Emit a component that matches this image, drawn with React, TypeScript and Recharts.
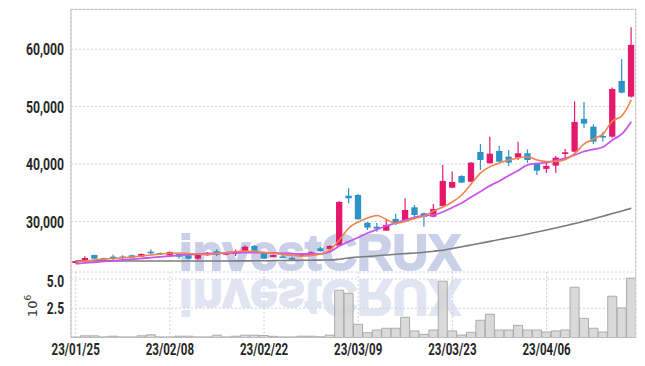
import React from 'react';
import { ComposedChart, Bar, Line, XAxis, YAxis, CartesianGrid } from 'recharts';

const DATES = [
  '23/01/25', '23/01/26', '23/01/27', '23/01/30', '23/01/31',
  '23/02/01', '23/02/02', '23/02/03', '23/02/06', '23/02/07',
  '23/02/08', '23/02/09', '23/02/10', '23/02/13', '23/02/14',
  '23/02/15', '23/02/16', '23/02/17', '23/02/20', '23/02/21',
  '23/02/22', '23/02/23', '23/02/24', '23/02/27', '23/02/28',
  '23/03/02', '23/03/03', '23/03/06', '23/03/07', '23/03/08',
  '23/03/09', '23/03/10', '23/03/13', '23/03/14', '23/03/15',
  '23/03/16', '23/03/17', '23/03/20', '23/03/21', '23/03/22',
  '23/03/23', '23/03/24', '23/03/27', '23/03/28', '23/03/29',
  '23/03/30', '23/03/31', '23/04/03', '23/04/04', '23/04/05',
  '23/04/06', '23/04/07', '23/04/10', '23/04/11', '23/04/12',
  '23/04/13', '23/04/14', '23/04/17', '23/04/18', '23/04/19',
];

const OPEN = [
  22770, 23070, 24160, 23640, 23870, 23900, 24110, 23870, 24740, 24510,
  24110, 24340, 24110, 23520, 24110, 24810, 24220, 24340, 24810, 25730,
  24460, 23820, 23900, 23660, 23940, 24340, 25330, 25210, 25790, 34490,
  34620, 29790, 29090, 28400, 30440, 30260, 32470, 31430, 30840, 32700,
  35890, 37930, 36930, 42110, 40140, 42280, 41290, 41110, 41880, 40140,
  39150, 39720, 41760, 42160, 47860, 46510, 44890, 44770, 54480, 51740,
];
const HIGH = [
  23150, 23940, 24200, 23700, 24220, 24110, 24200, 24400, 25160, 24600,
  24780, 24400, 24150, 24450, 24650, 25160, 24700, 25100, 25850, 25900,
  24500, 24250, 24110, 23870, 24400, 24800, 25560, 25850, 33500, 35780,
  34750, 29850, 29740, 30260, 31310, 34040, 32870, 31500, 33050, 39840,
  38680, 38050, 40350, 43500, 44770, 43150, 42460, 43900, 42580, 40200,
  40420, 41410, 42630, 50940, 50820, 46930, 45590, 53310, 58310, 63830,
];
const LOW = [
  22700, 23000, 23480, 23380, 23290, 23420, 23650, 23850, 24340, 24250,
  24080, 23520, 23450, 23350, 24050, 23990, 24150, 23990, 24750, 24850,
  23450, 23750, 23640, 23290, 23900, 24300, 24760, 25150, 25700, 33170,
  30300, 28520, 28220, 28350, 29340, 30200, 30730, 29090, 30750, 32650,
  35800, 36700, 36850, 38970, 40050, 40350, 39670, 40710, 40240, 38100,
  38500, 38500, 41010, 42050, 46290, 43500, 43900, 44600, 52350, 51600,
];
const CLOSE = [
  23100, 23640, 23520, 23420, 23780, 23820, 23690, 24340, 24600, 24290,
  24690, 23870, 23520, 24390, 24560, 24220, 24630, 24740, 25610, 24910,
  23520, 24160, 23780, 23520, 24340, 24630, 24810, 25730, 33400, 34040,
  30380, 28920, 28750, 29390, 29690, 32000, 31130, 30840, 32180, 37060,
  36880, 36760, 40240, 40710, 41810, 40420, 40240, 41880, 40710, 38850,
  39670, 41110, 42050, 47330, 47040, 43900, 44670, 53080, 52440, 60750,
];
// volume, in millions of shares
const VOLUME = [
  0.04, 0.14, 0.14, 0.05, 0.11, 0.05, 0.05, 0.14, 0.23, 0.05,
  0.05, 0.11, 0.11, 0.05, 0.05, 0.2, 0.05, 0.11, 0.2, 0.2,
  0.17, 0.1, 0.05, 0.05, 0.11, 0.11, 0.06, 0.2, 4.04, 3.78,
  1.13, 0.41, 0.64, 0.79, 0.79, 1.73, 0.56, 0.27, 0.64, 4.81,
  0.56, 0.21, 0.44, 1.47, 1.99, 0.64, 0.64, 1.04, 0.64, 0.64,
  0.47, 0.56, 0.64, 4.3, 1.64, 0.79, 0.47, 3.53, 2.53, 5.07,
];
// moving averages
const MA_SHORT = [
  22945, 23119, 23293, 23467, 23555, 23677, 23816, 23990, 24164, 24338,
  24478, 24512, 24425, 24303, 24233, 24425, 24599, 24773, 24861, 24773,
  24599, 24460, 24251, 24077, 23990, 24077, 24338, 25035, 26777, 28868,
  29913, 30610, 31045, 30349, 29652, 30000, 30523, 30958, 31829, 32526,
  33397, 34616, 36533, 38449, 39546, 40191, 40713, 41062, 41271, 40713,
  40452, 40452, 40800, 41846, 43500, 44371, 45242, 47507, 48378, 51165,
];
const MA_MID = [
  22649, 22773, 22894, 23033, 23155, 23293, 23433, 23555, 23711, 23851,
  23990, 24112, 24216, 24303, 24390, 24460, 24512, 24547, 24582, 24599,
  24582, 24512, 24460, 24390, 24338, 24338, 24373, 24739, 25732, 26516,
  27213, 27997, 28606, 29251, 29739, 30261, 30732, 30993, 31132, 31655,
  32439, 33222, 34268, 35226, 36236, 37055, 38013, 38884, 39842, 40104,
  40243, 40626, 40975, 41584, 42194, 42542, 42978, 44197, 45242, 47385,
];
const MA_LONG = [
  23160, 23150, 23140, 23135, 23130, 23130, 23125, 23120, 23115, 23110,
  23110, 23110, 23110, 23110, 23110, 23115, 23120, 23130, 23140, 23150,
  23160, 23180, 23200, 23220, 23240, 23255, 23275, 23293, 23433, 23642,
  23816, 23903, 24025, 24164, 24304, 24408, 24513, 24652, 24826, 25000,
  25297, 25593, 25906, 26220, 26534, 26847, 27161, 27474, 27823, 28171,
  28520, 28868, 29251, 29634, 30052, 30470, 30923, 31376, 31829, 32299,
];

const PRICE_TICKS = [30000, 40000, 50000, 60000];
const VOL_TICKS = [2.5, 5.0];

const data = DATES.map((date, i) => ({
  date,
  open: OPEN[i],
  high: HIGH[i],
  low: LOW[i],
  close: CLOSE[i],
  volume: VOLUME[i],
  maShort: MA_SHORT[i],
  maMid: MA_MID[i],
  maLong: MA_LONG[i],
}));

const RED = '#e5196b';
const BLUE = '#2b93c8';
const FONT = "Roboto, 'Noto Sans', sans-serif";
const GRID = '#cdd2e4';

// condensed look: squeeze glyphs to the reference's narrow widths
const textLen = (s: string) =>
  s.split('').reduce((acc, ch) => acc + (/[0-9]/.test(ch) ? 6.95 : 3.3), 0);

const YTick = (props: any) => {
  const { x, y, payload, fmt } = props;
  const s = fmt(payload.value);
  return (
    <text x={x} y={y} dy="0.37em" textAnchor="end" fontFamily={FONT} fontWeight={700} fontSize={16.5} fill="#262626"
      textLength={textLen(s)} lengthAdjust="spacingAndGlyphs">{s}</text>
  );
};

const XTick = (props: any) => {
  const { x, y, payload } = props;
  const s = String(payload.value);
  return (
    <text x={x} y={y} dy="0.75em" textAnchor="middle" fontFamily={FONT} fontWeight={700} fontSize={16.5} fill="#262626"
      textLength={textLen(s)} lengthAdjust="spacingAndGlyphs">{s}</text>
  );
};

const fmtPrice = (v: number) => v.toLocaleString('en-US');
const fmtVol = (v: number) => v.toFixed(1);

const Candle = (props: any) => {
  const { x, y, width, height, payload } = props;
  if (!payload || x == null) return null;
  const { open, close, high, low } = payload;
  const top = Math.min(y, y + height);
  const h = Math.abs(height);
  const ratio = high === low ? 0 : h / (high - low);
  const yOf = (v: number) => top + (high - v) * ratio;
  const color = close >= open ? RED : BLUE;
  const bTop = yOf(Math.max(open, close));
  const bBot = yOf(Math.min(open, close));
  const cx = x + width / 2;
  const bw = Math.min(6.5, width * 0.7);
  return (
    <g>
      <line x1={cx} x2={cx} y1={top} y2={top + h} stroke={color} strokeWidth={1.2} />
      <rect x={cx - bw / 2} y={bTop} width={bw} height={Math.max(1.6, bBot - bTop)} fill={color} />
    </g>
  );
};

export default function App() {
  return (
    <div style={{ position: 'absolute', left: 0, top: 0, width: 645, height: 366, background: '#fff', overflow: 'hidden' }}>
      <svg width={645} height={366} style={{ position: 'absolute', left: 0, top: 0 }}>
        <text x={179} y={270} fontFamily="'Liberation Sans', Arial, sans-serif" fontWeight="bold" fontSize={50}
          fill="#c9d0e8" stroke="#c9d0e8" strokeWidth={2} textLength={282} lengthAdjust="spacingAndGlyphs">investCRUX</text>
        <g transform="translate(0,550) scale(1,-1)">
          <text x={179} y={270} fontFamily="'Liberation Sans', Arial, sans-serif" fontWeight="bold" fontSize={50}
            fill="#e1e5f1" stroke="#e1e5f1" strokeWidth={2} textLength={282} lengthAdjust="spacingAndGlyphs">investCRUX</text>
        </g>
      </svg>
      <div style={{ position: 'absolute', left: 0, top: 0 }}>
        <ComposedChart width={645} height={272} data={data} margin={{ top: 9, right: 9, bottom: 0, left: 0 }} barCategoryGap={0} barGap={0}>
          <CartesianGrid stroke={GRID} strokeDasharray="2 2" />
          <XAxis dataKey="date" interval={9} tick={false} tickLine={false} height={0} axisLine={{ stroke: '#bdbdbd' }} />
          <YAxis width={71} domain={[21200, 67000]} ticks={PRICE_TICKS} allowDataOverflow
            tick={<YTick fmt={fmtPrice} />} tickLine={false} tickSize={0} tickMargin={7}
            axisLine={{ stroke: '#bdbdbd' }} />
          <Bar dataKey={(d: any) => [d.low, d.high]} shape={(p: any) => <Candle {...p} />} isAnimationActive={false} />
          <Line type="monotone" dataKey="maLong" stroke="#7b7b7b" strokeWidth={1.6} dot={false} isAnimationActive={false} />
          <Line type="monotone" dataKey="maMid" stroke="#c955ea" strokeWidth={1.8} dot={false} isAnimationActive={false} />
          <Line type="monotone" dataKey="maShort" stroke="#f0844c" strokeWidth={1.6} dot={false} isAnimationActive={false} />
        </ComposedChart>
      </div>
      <div style={{ position: 'absolute', left: 0, top: 272 }}>
        <ComposedChart width={645} height={94} data={data} margin={{ top: 0, right: 9, bottom: 0, left: 0 }} barCategoryGap={0} barGap={0}>
          <CartesianGrid stroke={GRID} strokeDasharray="2 2" />
          <XAxis dataKey="date" interval={9} tick={<XTick />} tickLine={false} tickSize={0} tickMargin={5.5} height={28.5}
            axisLine={{ stroke: '#bdbdbd' }} />
          <YAxis width={71} domain={[0, 5.6]} ticks={VOL_TICKS} allowDataOverflow
            tick={<YTick fmt={fmtVol} />} tickLine={false} tickSize={0} tickMargin={7}
            axisLine={{ stroke: '#bdbdbd' }} />
          <Bar dataKey="volume" fill="#d4d4d4" fillOpacity={0.85} stroke="#ababab" strokeWidth={1} isAnimationActive={false} />
        </ComposedChart>
      </div>
      <div style={{ position: 'absolute', left: 71, top: 9, width: 565, height: 328, borderTop: '1px solid #d0d0d0', borderRight: '1px solid #d0d0d0', boxSizing: 'border-box', pointerEvents: 'none' }} />
      <svg width={60} height={366} style={{ position: 'absolute', left: 0, top: 0 }}>
        <text transform="translate(37,306) rotate(-90)" textAnchor="middle" fontFamily="'DejaVu Sans', sans-serif" fontSize={13} fill="#333">
          10<tspan dy={-6} fontSize={9}>6</tspan>
        </text>
      </svg>
    </div>
  );
}
